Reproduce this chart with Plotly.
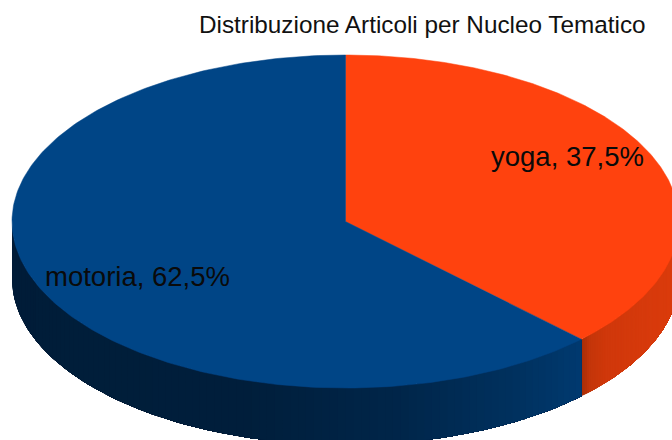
import numpy as np
import plotly.graph_objects as go

title = "Distribuzione Articoli per Nucleo Tematico"
categories = ["yoga", "motoria"]
values = [37.5, 62.5]
top_colors = ["#ff420e", "#004586"]

# Geometry of the tilted disc, in page pixels
W, H = 672, 440
CX, CY, RX, RY, DEPTH = 345.5, 221.5, 333.5, 166.5, 57

# Side shading as (x pixel, rgb) stops for each slice
side_stops = [
    ([582, 590, 606, 640, 680], [(168, 46, 8), (196, 54, 10), (208, 56, 11), (214, 58, 12), (220, 60, 12)]),
    ([10, 60, 250, 400, 520, 582], [(0, 28, 56), (0, 30, 58), (0, 31, 60), (0, 38, 74), (0, 50, 96), (0, 58, 112)]),
]
label_xy = [(567, 156.5), (137, 276.5)]


def pt(deg, dy=0.0):
    a = np.radians(deg)
    return CX + RX * np.cos(a), CY - RY * np.sin(a) + dy


def rgb_at(x, sx, sc):
    rgb = [int(np.interp(x, sx, [c[i] for c in sc])) for i in range(3)]
    return f"rgb({rgb[0]},{rgb[1]},{rgb[2]})"


fig = go.Figure()
total = sum(values)
start = 90.0
spans = []
for v in values:
    end = start - 360.0 * v / total
    spans.append((start, end))
    start = end

# side wall: only the front half (angles between 180 and 360 on the ellipse) is visible
for (a0, a1), (sx, sc) in zip(spans, side_stops):
    lo, hi = a1, a0
    for k in (-1, 0, 1):
        l2, h2 = max(lo + 360 * k, -180), min(hi + 360 * k, 0)
        if h2 > l2:
            edges = np.linspace(l2, h2, 100)
            # each band runs on to the end of the wall, so later bands overlap with no seams
            for i in range(len(edges) - 1):
                band = np.linspace(edges[i], h2, max(2, (len(edges) - i)))
                xt = [pt(a)[0] for a in band]
                yt = [pt(a)[1] for a in band]
                xs = xt + xt[::-1] + [xt[0]]
                ys = yt + [y + DEPTH for y in yt[::-1]] + [yt[0]]
                col = rgb_at((xt[0] + pt(edges[i + 1])[0]) / 2, sx, sc)
                fig.add_trace(go.Scatter(
                    x=xs, y=ys, mode="lines", fill="toself", fillcolor=col,
                    line=dict(width=0), hoverinfo="skip", showlegend=False))

# top faces
for (a0, a1), col in zip(spans, top_colors):
    ang = np.linspace(a0, a1, 240)
    xs = [CX] + [pt(a)[0] for a in ang] + [CX]
    ys = [CY] + [pt(a)[1] for a in ang] + [CY]
    fig.add_trace(go.Scatter(x=xs, y=ys, mode="lines", fill="toself", fillcolor=col,
                             line=dict(color=col, width=0.5), hoverinfo="skip", showlegend=False))

annotations = [dict(x=422.5, y=24.5, text=title, showarrow=False, xref="x", yref="y",
                    font=dict(family="Liberation Sans", size=24.3, color="#111111"))]
for cat, v, (lx, ly) in zip(categories, values, label_xy):
    text = f"{cat}, {v / total * 100:.1f}%".replace(".", ",")
    annotations.append(dict(x=lx, y=ly, text=text, showarrow=False, xref="x", yref="y",
                            font=dict(family="Liberation Sans", size=27.5, color="#0a0a0a")))

fig.update_layout(
    width=W, height=H, autosize=False,
    margin=dict(l=0, r=0, t=0, b=0),
    paper_bgcolor="white", plot_bgcolor="white",
    xaxis=dict(range=[0, W], visible=False, fixedrange=True),
    yaxis=dict(range=[H, 0], visible=False, fixedrange=True),
    annotations=annotations, showlegend=False,
)
fig.write_html("out.html", config={"displayModeBar": False},
               post_script="document.body.style.margin='0';document.body.style.overflow='hidden';")
